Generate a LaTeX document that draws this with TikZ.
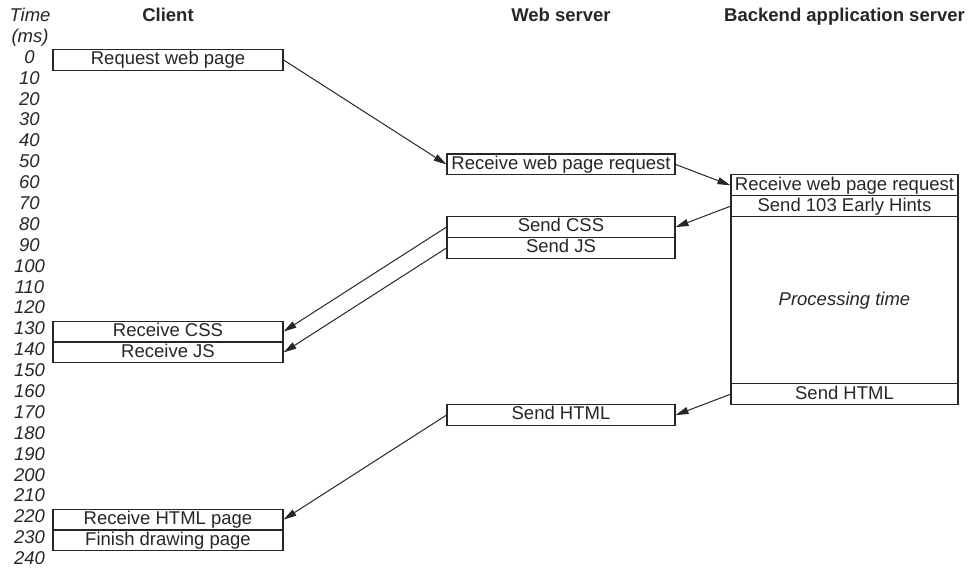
\documentclass[tikz,border=0pt]{standalone}
\usepackage{fontspec}
\setmainfont{Liberation Sans}
\usetikzlibrary{arrows.meta}
\begin{document}
\begin{tikzpicture}[
  x=1pt, y=-2.089pt, yshift=-60pt,
  every node/.style={font=\fontsize{18.5}{20}\selectfont, text=black!85},
  box/.style={draw=black!85, line width=1.1pt, inner sep=0pt, minimum height=20.9pt, text height=13.4pt, text depth=3.8pt, anchor=center},
  cbox/.style={box, minimum width=230pt},
  wbox/.style={box, minimum width=228pt},
  bbox/.style={box, minimum width=227pt},
  tlab/.style={font=\fontsize{18.5}{20}\selectfont\itshape, inner sep=0pt, text height=13.4pt, text depth=3.8pt, yshift=1.5pt},
  head/.style={font=\fontsize{18.5}{20}\selectfont\bfseries, inner sep=0pt, text height=13.4pt, text depth=3.8pt, yshift=1.5pt},
  arr/.style={draw=black!85, line width=1pt, -{Triangle[length=13pt,width=7pt]}}
]
\useasboundingbox (0,-28.72) rectangle (971,244.6);
% headers
\node[tlab] (ht) at (30,-20) {Time};
\node[tlab] (hm) at (30,-10) {(ms)};
\node[head] (hc) at (168,-20) {Client};
\node[head] (hw) at (561,-20) {Web server};
\node[head] (hb) at (844.5,-20) {Backend application server};
% time labels
\foreach \t in {0,10,...,240} {
  \node[tlab] (t\t) at (29.5,\t) {\t};
}
% client
\node[cbox] (creq) at (168,0) {Request web page};
\node[cbox] (ccss) at (168,130) {Receive CSS};
\node[cbox] (cjs) at (168,140) {Receive JS};
\node[cbox] (chtml) at (168,220) {Receive HTML page};
\node[cbox] (cfin) at (168,230) {Finish drawing page};
% web server
\node[wbox] (wreq) at (561,50) {Receive web page request};
\node[wbox] (wcss) at (561,80) {Send CSS};
\node[wbox] (wjs) at (561,90) {Send JS};
\node[wbox] (whtml) at (561,170) {Send HTML};
% backend
\node[bbox] (breq) at (844.5,60) {Receive web page request};
\node[bbox] (bhint) at (844.5,70) {Send 103 Early Hints};
\node[bbox, minimum height=167.1pt, text height=, text depth=] (bproc) at (844.5,115) {\itshape Processing time};
\node[bbox] (bhtml) at (844.5,160) {Send HTML};
% arrows
\draw[arr] (creq.east) -- (wreq.west);
\draw[arr] (wreq.east) -- (breq.west);
\draw[arr] (bhint.west) -- (wcss.east);
\draw[arr] (wcss.west) -- (ccss.east);
\draw[arr] (wjs.west) -- (cjs.east);
\draw[arr] (bhtml.west) -- (whtml.east);
\draw[arr] (whtml.west) -- (chtml.east);
\end{tikzpicture}
\end{document}
